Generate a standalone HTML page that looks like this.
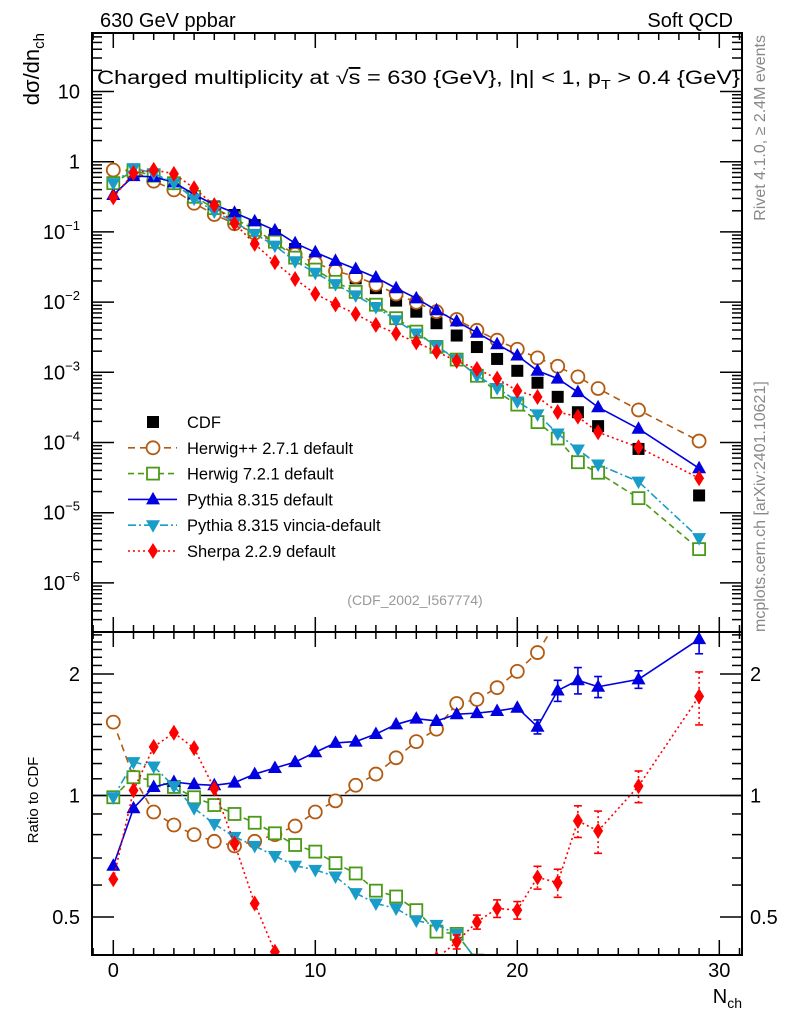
<!DOCTYPE html>
<html><head><meta charset="utf-8"><style>
html,body{margin:0;padding:0;background:#fff;width:786px;height:1024px;overflow:hidden;}
svg{display:block;font-family:"Liberation Sans",sans-serif;}
</style></head><body>
<svg id="chart" width="786" height="1024" viewBox="0 0 786 1024">
<defs>
<clipPath id="clipMain"><rect x="92" y="33" width="650" height="599"/></clipPath>
<clipPath id="clipRatio"><rect x="92" y="632" width="650" height="323"/></clipPath>
</defs>
<text x="100" y="27" font-size="20">630 GeV ppbar</text>
<text x="733" y="27" font-size="20" text-anchor="end">Soft QCD</text>
<text x="97" y="84" font-size="19" textLength="643" lengthAdjust="spacingAndGlyphs">Charged multiplicity at √<tspan text-decoration="overline">s</tspan> = 630 {GeV}, |η| &lt; 1, p<tspan font-size="13" dy="5">T</tspan><tspan dy="-5"> &gt; 0.4 {GeV}</tspan></text>
<text transform="translate(39,33) rotate(-90)" font-size="22" text-anchor="end">dσ/dn<tspan font-size="15" dy="5">ch</tspan></text>
<text transform="translate(38,800) rotate(-90)" font-size="15" text-anchor="middle">Ratio to CDF</text>
<text x="742" y="1003" font-size="20" text-anchor="end">N<tspan font-size="14" dy="5">ch</tspan></text>
<text transform="translate(765,35) rotate(-90)" font-size="16" fill="#888" text-anchor="end">Rivet 4.1.0, ≥ 2.4M events</text>
<text transform="translate(765,632) rotate(-90)" font-size="16" fill="#888" text-anchor="start">mcplots.cern.ch [arXiv:2401.10621]</text>
<text x="415" y="605" font-size="14" fill="#999" text-anchor="middle">(CDF_2002_I567774)</text>
<g id="axes"></g>
<g id="mainMarks" clip-path="url(#clipMain)"></g>
<g id="ratioMarks" clip-path="url(#clipRatio)"></g>
<g id="legend"></g>
<rect x="92" y="33" width="650" height="599" fill="none" stroke="#000" stroke-width="2"/>
<rect x="92" y="632" width="650" height="323" fill="none" stroke="#000" stroke-width="2"/>
</svg>
<script>
const nch=[0,1,2,3,4,5,6,7,8,9,10,11,12,13,14,15,16,17,18,19,20,21,22,23,24,26,29];
const cdf=[0.50,0.67,0.58,0.47,0.32,0.23,0.174,0.125,0.09,0.057,0.040,0.0286,0.0218,0.0158,0.0105,0.0073,0.0050,0.00334,0.00229,0.00155,0.00105,0.00071,0.000447,0.00027,0.000171,8.1e-5,1.76e-5];
const ratioHerwigpp=[1.52,1.11,0.91,0.845,0.80,0.77,0.75,0.77,0.80,0.84,0.91,0.97,1.06,1.13,1.24,1.36,1.46,1.69,1.73,1.85,2.03,2.26,2.73,3.19,3.44,3.59,5.96];
const ratioHerwig7=[0.99,1.11,1.09,1.05,0.99,0.947,0.90,0.856,0.806,0.754,0.726,0.68,0.641,0.581,0.562,0.52,0.46,0.454,0.39,0.34,0.33,0.275,0.255,0.194,0.217,0.199,0.172];
const ratioPythia=[0.67,0.93,1.05,1.08,1.066,1.06,1.076,1.13,1.17,1.21,1.28,1.35,1.36,1.42,1.50,1.55,1.53,1.59,1.60,1.62,1.65,1.48,1.82,1.93,1.86,1.94,2.44];
const ratioVincia=[0.99,1.21,1.18,1.055,0.93,0.85,0.79,0.75,0.708,0.67,0.654,0.63,0.573,0.54,0.525,0.49,0.478,0.454,0.39,0.386,0.366,0.355,0.30,0.294,0.284,0.342,0.247];
const ratioSherpa=[0.62,1.03,1.32,1.43,1.31,1.04,0.76,0.54,0.41,0.374,0.328,0.325,0.31,0.30,0.34,0.366,0.394,0.434,0.486,0.525,0.52,0.627,0.608,0.865,0.817,1.055,1.76];
const errPythia=[0.01,0.01,0.01,0.01,0.01,0.01,0.01,0.01,0.01,0.01,0.01,0.01,0.01,0.012,0.012,0.015,0.015,0.02,0.02,0.02,0.025,0.04,0.06,0.075,0.06,0.05,0.08];
const errSherpa=[0.01,0.01,0.01,0.01,0.01,0.01,0.01,0.02,0.02,0.02,0.02,0.02,0.02,0.02,0.03,0.03,0.03,0.04,0.04,0.05,0.05,0.065,0.08,0.09,0.12,0.09,0.15];
const xTicks=[0,10,20,30];
const mainExp=[1,0,-1,-2,-3,-4,-5,-6];
const ratioTicks=[0.5,1,2];
const ratioLabels=["0.5","1","2"];

const NS="http://www.w3.org/2000/svg";
function X(n){return 113.3+20.2*n;}
function Y(v){return 161.7-70.2*Math.log10(v);}
function R(r){return 795.5-403.6*Math.log10(r);}
function mk(tag,attrs,parent){const e=document.createElementNS(NS,tag);for(const k in attrs)e.setAttribute(k,attrs[k]);parent.appendChild(e);return e;}
const axes=document.getElementById('axes');
const mainG=document.getElementById('mainMarks');
const ratG=document.getElementById('ratioMarks');
const legG=document.getElementById('legend');
const YMIN=600,YMAX=1000;

for(let n=-1;n<=31;n++){
  const x=X(n); if(x<93||x>741)continue;
  const L=(n%10===0)?15:7;
  [[632,-1],[33,1],[955,-1],[632,1]].forEach(([y0,d])=>{
    const t=mk('line',{x1:x,x2:x,y1:y0,y2:y0+d*L,stroke:'#000','stroke-width':1.5},axes);
    
    
  });
}
xTicks.forEach(v=>{
  const t=mk('text',{x:X(v),y:977,'font-size':20,'text-anchor':'middle'},axes);
  t.textContent=v;
  
  
});
for(let e=-7;e<=1;e++){
  for(let m=1;m<=9;m++){
    const v=m*Math.pow(10,e); const y=Y(v); if(y<34||y>631)continue;
    const L=(m===1)?22:10;
    [[92,1],[742,-1]].forEach(([x0,d])=>{
      const t=mk('line',{x1:x0,x2:x0+d*L,y1:y,y2:y,stroke:'#000','stroke-width':1.5},axes);
      
      
    });
  }
}
mainExp.forEach(e=>{
  const y=Y(Math.pow(10,e))+7;
  const t=mk('text',{x:80,y:y,'font-size':20,'text-anchor':'end'},axes);
  if(e===1)t.textContent='10';
  else if(e===0)t.textContent='1';
  else{t.textContent='10';const s=mk('tspan',{'font-size':13,dy:-9},t);s.textContent='−'+(-e);}
  
  
});
for(let r=0.4;r<=2.6;r+=0.1){
  const rr=Math.round(r*10)/10; const y=R(rr); if(y<633||y>954)continue;
  const major=(rr===0.5||rr===1||rr===2);
  const L=major?22:10;
  [[92,1],[742,-1]].forEach(([x0,d])=>{
    const t=mk('line',{x1:x0,x2:x0+d*L,y1:y,y2:y,stroke:'#000','stroke-width':1.5},axes);
    
    
  });
}
ratioTicks.forEach((v,i)=>{
  const y=R(v)+7;
  const t=mk('text',{x:80,y:y,'font-size':20,'text-anchor':'end'},axes);
  t.textContent=ratioLabels[i];
  
  
  const t2=mk('text',{x:750,y:y,'font-size':20,'text-anchor':'start'},axes);
  t2.textContent=ratioLabels[i];
  
  
});
const one=mk('line',{x1:92,x2:742,y1:R(1),y2:R(1),stroke:'#000','stroke-width':1.5},ratG);



function marker(type,color,x,y,parent,name){
  let e;
  if(type==='square') e=mk('rect',{x:x-6,y:y-6,width:12,height:12,fill:color},parent);
  else if(type==='osquare') e=mk('rect',{x:x-6,y:y-6,width:12,height:12,fill:'#fff',stroke:color,'stroke-width':1.8},parent);
  else if(type==='ocircle') e=mk('circle',{cx:x,cy:y,r:6.5,fill:'#fff',stroke:color,'stroke-width':1.8},parent);
  else if(type==='tri') e=mk('path',{d:`M${x} ${y-7.5}L${x+7} ${y+5}L${x-7} ${y+5}Z`,fill:color},parent);
  else if(type==='itri') e=mk('path',{d:`M${x} ${y+7.5}L${x+7} ${y-5}L${x-7} ${y-5}Z`,fill:color},parent);
  else if(type==='diamond') e=mk('path',{d:`M${x} ${y-8}L${x+5} ${y}L${x} ${y+8}L${x-5} ${y}Z`,fill:color},parent);
  
  
  return e;
}
// clip a polyline (array of [x,y]) to YMIN..YMAX, returning segments
function clipSegs(pts){
  const segs=[];
  for(let i=0;i<pts.length-1;i++){
    let [x1,y1]=pts[i],[x2,y2]=pts[i+1];
    if((y1>YMAX&&y2>YMAX)||(y1<YMIN&&y2<YMIN))continue;
    function cut(xa,ya,xb,yb,yl){const t=(yl-ya)/(yb-ya);return [xa+t*(xb-xa),yl];}
    if(y1>YMAX)[x1,y1]=cut(x1,y1,x2,y2,YMAX);
    if(y1<YMIN)[x1,y1]=cut(x1,y1,x2,y2,YMIN);
    if(y2>YMAX)[x2,y2]=cut(x1,y1,x2,y2,YMAX);
    if(y2<YMIN)[x2,y2]=cut(x1,y1,x2,y2,YMIN);
    segs.push([x1,y1,x2,y2]);
  }
  return segs;
}
const series=[
 {key:'herwigpp',ratio:ratioHerwigpp,err:null,color:'#b35a10',dash:'7,5',type:'ocircle',label:'Herwig++ 2.7.1 default'},
 {key:'herwig7',ratio:ratioHerwig7,err:null,color:'#4a9a18',dash:'6,4',type:'osquare',label:'Herwig 7.2.1 default'},
 {key:'pythia',ratio:ratioPythia,err:errPythia,color:'#0000e0',dash:'',type:'tri',label:'Pythia 8.315 default'},
 {key:'vincia',ratio:ratioVincia,err:null,color:'#1a9cc8',dash:'8,3,2,3',type:'itri',label:'Pythia 8.315 vincia-default'},
 {key:'sherpa',ratio:ratioSherpa,err:errSherpa,color:'#ff0000',dash:'2,3',type:'diamond',label:'Sherpa 2.2.9 default'}
];
nch.forEach((n,i)=>marker('square','#000',X(n),Y(cdf[i]),mainG,'cdf-point'));
series.forEach(s=>{
  const mp=nch.map((n,i)=>X(n)+','+Y(cdf[i]*s.ratio[i])).join(' ');
  const pl=mk('polyline',{points:mp,fill:'none',stroke:s.color,'stroke-width':1.6,'stroke-dasharray':s.dash},mainG);
  
  
  const rpts=nch.map((n,i)=>[X(n),R(s.ratio[i])]);
  clipSegs(rpts).forEach(sg=>{
    const rl=mk('line',{x1:sg[0],y1:sg[1],x2:sg[2],y2:sg[3],stroke:s.color,'stroke-width':1.6,'stroke-dasharray':s.dash},ratG);
    
    
  });
  nch.forEach((n,i)=>{
    const ry=R(s.ratio[i]);
    const inRange=ry>YMIN&&ry<YMAX;
    if(s.err&&inRange){
      const r=s.ratio[i],e=s.err[i];
      const eb=mk('line',{x1:X(n),x2:X(n),y1:R(r*(1+e)),y2:R(r*(1-e)),stroke:s.color,'stroke-width':1.6,'stroke-dasharray':s.dash},ratG);
      
      
      if(e>0.03){[r*(1+e),r*(1-e)].forEach(v=>{
        const c=mk('line',{x1:X(n)-4,x2:X(n)+4,y1:R(v),y2:R(v),stroke:s.color,'stroke-width':1.6},ratG);
        
        
      });}
    }
    marker(s.type,s.color,X(n),Y(cdf[i]*s.ratio[i]),mainG,s.key+'-point');
    if(inRange)marker(s.type,s.color,X(n),ry,ratG,s.key+'-ratio-point');
  });
});
const legRows=[{label:'CDF',type:'square',color:'#000',dash:null,key:'cdf'}].concat(series);
legRows.forEach((s,i)=>{
  const y=422+i*25.8;
  const g=mk('g',{},legG);
  
  
  if(s.dash!==null){
    const l=mk('line',{x1:128,x2:177,y1:y,y2:y,stroke:s.color,'stroke-width':1.6,'stroke-dasharray':s.dash},g);
    
    
  }
  marker(s.type,s.color,153,y,g,'legend-marker');
  const t=mk('text',{x:187,y:y+6,'font-size':16.5},g);
  t.textContent=s.key==='cdf'?'CDF':s.label;
  
  
});
</script>
</body></html>
